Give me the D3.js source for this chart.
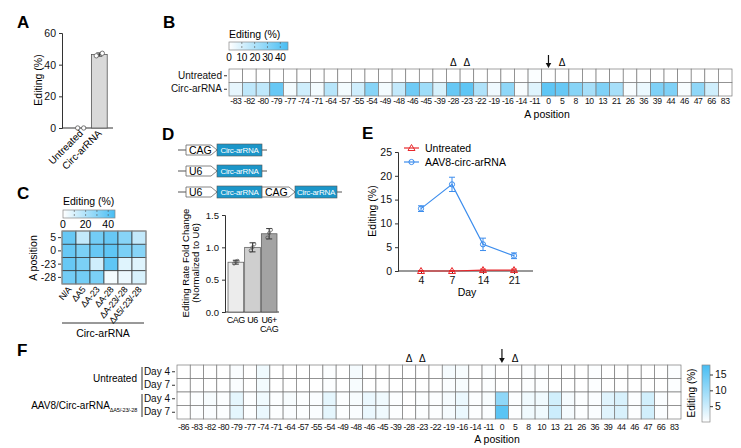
<!DOCTYPE html>
<html>
<head>
<meta charset="utf-8">
<script src="https://cdn.jsdelivr.net/npm/d3@7"></script>
<style>
  body { margin: 0; background: #fff; }
  svg { font-family: "Liberation Sans", Arial, sans-serif; }
  .panel { font-weight: bold; font-size: 17px; }
  .domain { stroke: #333; }
</style>
</head>
<body>
<div id="fig"></div>
<script>
// ---- data ----
var aGroups = ["Untreated", "Circ-arRNA"];
var aMeans = [0.2, 46.4];
var aErr = [0.2, 1.0];
var aPoints = [[0, 0], [45.6, 47.2]];

var bPositions = [-83, -82, -80, -79, -77, -74, -71, -64, -57, -55, -54, -49, -48, -46, -45, -39, -28, -23, -22, -19, -16, -14, -11, 0, 5, 8, 10, 13, 21, 26, 36, 39, 44, 46, 47, 66, 83];
var bRows = ["Untreated", "Circ-arRNA"];
var bUntreated = [0, 0, 0, 0, 0, 0, 0, 0, 0, 0, 0, 0, 0, 0, 0, 0, 0, 0, 0, 0, 0, 0, 1, 0, 0, 0, 0, 0, 0, 0, 0, 0, 0, 0, 0, 0, 0];
var bCirc = [6, 16, 16, 38, 3, 12, 3, 18, 3, 12, 30, 3, 15, 36, 24, 10, 38, 40, 20, 4, 28, 2, 8, 40, 38, 30, 22, 32, 22, 2, 5, 32, 32, 2, 28, 12, 0];
var bMarkedDelta = [-28, -23, 5];
var bArrow = 0;

var cCols = ["N/A", "ΔA5", "ΔA-23", "ΔA-28", "ΔA-23/-28", "ΔA5/-23/-28"];
var cRows = ["5", "0", "-23", "-28"];
var cValues = [
  [38, 15, 35, 38, 30, 15],
  [38, 33, 38, 40, 33, 30],
  [38, 33, 12, 40, 8, 8],
  [35, 35, 33, 3, 5, 10]
];

var dConstructs = [["CAG", "Circ-arRNA"], ["U6", "Circ-arRNA"], ["U6", "Circ-arRNA", "CAG", "Circ-arRNA"]];
var dGroups = ["CAG", "U6", "U6+CAG"];
var dMeans = [0.77, 1.0, 1.21];
var dErr = [0.03, 0.07, 0.08];
var dPoints = [[0.75, 0.78, 0.79], [0.95, 1.0, 1.05], [1.15, 1.22, 1.27]];

var eDays = [4, 7, 14, 21];
var eUntreated = [0, 0, 0.2, 0.2];
var eUntreatedErr = [0.1, 0.1, 0.2, 0.2];
var eAav = [13.1, 18.2, 5.6, 3.2];
var eAavErr = [0.6, 1.5, 1.3, 0.6];

var fPositions = [-86, -83, -82, -80, -79, -77, -74, -71, -64, -57, -55, -54, -49, -48, -46, -45, -39, -28, -23, -22, -19, -16, -14, -11, 0, 5, 8, 10, 13, 21, 26, 36, 39, 44, 46, 47, 66, 83];
var fRowLabels = ["Day 4", "Day 7", "Day 4", "Day 7"];
var fValues = [
  [0, 0, 0, 0, 0.5, 0, 1.5, 0, 0, 0, 0, 0.3, 0, 1, 0, 0, 0, 0, 0, 0, 1, 0.8, 0, 0.3, 0, 0, 0.3, 0.3, 0, 0, 0, 0.3, 0, 0, 0, 0, 0, 0.3],
  [0, 0, 0, 0, 0.5, 0, 1.2, 0, 0, 0, 0, 0.3, 0, 0.8, 0, 0, 0, 0, 0, 0, 0.5, 0.8, 0, 0.3, 0, 0, 0.3, 0.3, 0, 0, 0, 0.3, 0, 0, 0, 0, 0, 0.3],
  [0, 0.3, 0.8, 0.3, 2.5, 0.3, 1.5, 0.3, 0.8, 0.3, 0.5, 2.5, 0.3, 0.8, 2, 1.5, 0.3, 0, 0.3, 0.3, 1, 2, 0.3, 0.8, 11, 0.3, 1.5, 1.5, 4.5, 1, 0.3, 0.5, 3, 3.8, 0.3, 4.5, 0.5, 0],
  [0, 0.3, 0.5, 0.3, 2.5, 0.3, 2, 0.3, 0.5, 0.3, 0.5, 2.5, 0.3, 0.5, 2, 1.5, 0.3, 0, 0.3, 0.3, 1, 2, 0.3, 0.5, 16, 0.3, 1.5, 1.5, 5, 1, 0.3, 0.5, 3, 3.8, 0.3, 4.5, 0.5, 0]
];

// ---- svg ----
var svg = d3.select("#fig").append("svg")
  .attr("width", 741)
  .attr("height", 448);

var heatBlue = "#47bdf3";
var cellStroke = "#7a7a7a";

function panelLabel(t, x, y) {
  svg.append("text").attr("class", "panel").attr("x", x).attr("y", y).text(t);
}
function styleAxis(g, size) {
  g.selectAll("text").attr("font-size", size).attr("fill", "#111");
  g.selectAll("line").attr("stroke", "#333");
  g.select(".domain").attr("stroke", "#333");
}
function deltaMark(x, y) {
  svg.append("text").attr("x", x).attr("y", y).attr("text-anchor", "middle")
    .attr("font-size", 10).text("Δ");
}
function arrowMark(x, y0, y1) {
  svg.append("line").attr("x1", x).attr("x2", x).attr("y1", y0).attr("y2", y1 - 4)
    .attr("stroke", "#111").attr("stroke-width", 1.2);
  svg.append("path").attr("d", `M${x - 2.8},${y1 - 5} L${x + 2.8},${y1 - 5} L${x},${y1} Z`).attr("fill", "#111");
}
function gradientDef(id, vertical) {
  var g = svg.append("defs").append("linearGradient").attr("id", id);
  if (vertical) g.attr("x1", 0).attr("y1", 1).attr("x2", 0).attr("y2", 0);
  g.append("stop").attr("offset", "0%").attr("stop-color", "#ffffff");
  g.append("stop").attr("offset", "100%").attr("stop-color", heatBlue);
}

// ================= Panel A =================
panelLabel("A", 17, 28);
var yA = d3.scaleLinear().domain([0, 60]).range([128, 33]);
var xA = d3.scaleBand().domain(aGroups).range([70, 110]).padding(0.15);

var axA = svg.append("g").attr("transform", "translate(62,0)")
  .call(d3.axisLeft(yA).tickValues([0, 20, 40, 60]).tickSize(3));
styleAxis(axA, 10.5);
svg.append("line").attr("x1", 62).attr("x2", 113).attr("y1", 128).attr("y2", 128).attr("stroke", "#333");

svg.selectAll(".barA").data(aGroups).enter().append("rect")
  .attr("x", d => xA(d))
  .attr("width", xA.bandwidth())
  .attr("y", (d, i) => yA(aMeans[i]))
  .attr("height", (d, i) => yA(0) - yA(aMeans[i]))
  .attr("fill", (d, i) => i === 0 ? "none" : "#d9d9d9")
  .attr("stroke", (d, i) => i === 0 ? "none" : "#555")
  .attr("stroke-width", 0.8);

aGroups.forEach(function(g, i) {
  var cx = xA(g) + xA.bandwidth() / 2;
  if (aErr[i] > 0.5) {
    svg.append("line").attr("x1", cx).attr("x2", cx).attr("y1", yA(aMeans[i] - aErr[i])).attr("y2", yA(aMeans[i] + aErr[i])).attr("stroke", "#333");
    [aMeans[i] - aErr[i], aMeans[i] + aErr[i]].forEach(function(v) {
      svg.append("line").attr("x1", cx - 3).attr("x2", cx + 3).attr("y1", yA(v)).attr("y2", yA(v)).attr("stroke", "#333");
    });
  }
  aPoints[i].forEach(function(v, j) {
    svg.append("circle").attr("cx", cx + (j === 0 ? -3 : 3)).attr("cy", yA(v)).attr("r", 2.2)
      .attr("fill", "#fff").attr("stroke", "#555").attr("stroke-width", 0.8);
  });
  svg.append("text")
    .attr("transform", `translate(${cx + 3},${134}) rotate(-45)`)
    .attr("text-anchor", "end").attr("font-size", 10).text(g);
});
svg.append("text").attr("transform", "translate(42,80) rotate(-90)")
  .attr("text-anchor", "middle").attr("font-size", 10.5).text("Editing (%)");

// ================= Panel B =================
panelLabel("B", 163, 28);
var xB = d3.scaleBand().domain(bPositions).range([229, 732]);
var yB = d3.scaleBand().domain(bRows).range([69, 96]);
var colorB = d3.scaleLinear().domain([0, 46]).range(["#ffffff", heatBlue]);

[bUntreated, bCirc].forEach(function(row, r) {
  svg.append("g").selectAll("rect").data(row).enter().append("rect")
    .attr("x", (d, i) => xB(bPositions[i]))
    .attr("y", yB(bRows[r]))
    .attr("width", xB.bandwidth())
    .attr("height", yB.bandwidth())
    .attr("fill", d => colorB(d))
    .attr("stroke", cellStroke)
    .attr("stroke-width", 0.7);
});
var axBL = svg.append("g").attr("transform", "translate(227,0)")
  .call(d3.axisLeft(yB).tickSize(3).tickPadding(2));
axBL.select(".domain").remove();
styleAxis(axBL, 10);
var axBB = svg.append("g").attr("transform", "translate(0,96)")
  .call(d3.axisBottom(xB).tickSize(0).tickPadding(1.5));
axBB.select(".domain").remove();
styleAxis(axBB, 8.6);
axBB.selectAll("text").attr("letter-spacing", -0.4);
svg.append("text").attr("x", 547).attr("y", 118).attr("text-anchor", "middle").attr("font-size", 10.5).text("A position");

bMarkedDelta.forEach(p => deltaMark(xB(p) + xB.bandwidth() / 2, 66));
arrowMark(xB(bArrow) + xB.bandwidth() / 2, 55, 68);

// legend B
gradientDef("gradB", false);
svg.append("text").attr("x", 229).attr("y", 38).attr("font-size", 10.5).text("Editing (%)");
var legB = d3.scaleLinear().domain([0, 46]).range([229, 288]);
svg.append("rect").attr("x", 229).attr("y", 42).attr("width", 59).attr("height", 8)
  .attr("fill", "url(#gradB)").attr("stroke", "#888").attr("stroke-width", 0.7);
[10, 20, 30, 40].forEach(function(v) {
  svg.append("line").attr("x1", legB(v)).attr("x2", legB(v)).attr("y1", 42).attr("y2", 50)
    .attr("stroke", "#555").attr("stroke-width", 0.6).attr("stroke-dasharray", "2,2");
});
[0, 10, 20, 30, 40].forEach(function(v) {
  svg.append("text").attr("x", legB(v)).attr("y", 61).attr("text-anchor", "middle")
    .attr("font-size", 10).attr("letter-spacing", -0.3).text(v);
});

// ================= Panel C =================
panelLabel("C", 17, 199);
var xC = d3.scaleBand().domain(cCols).range([62, 146]);
var yC = d3.scaleBand().domain(cRows).range([231, 284]);
var colorC = d3.scaleLinear().domain([0, 46]).range(["#ffffff", heatBlue]);
cValues.forEach(function(row, r) {
  svg.append("g").selectAll("rect").data(row).enter().append("rect")
    .attr("x", (d, i) => xC(cCols[i]))
    .attr("y", yC(cRows[r]))
    .attr("width", xC.bandwidth())
    .attr("height", yC.bandwidth())
    .attr("fill", d => colorC(d))
    .attr("stroke", "#333")
    .attr("stroke-width", 0.7);
});
svg.append("rect").attr("x", 62).attr("y", 231).attr("width", 84).attr("height", 53)
  .attr("fill", "none").attr("stroke", "#999").attr("stroke-width", 1);
var axCL = svg.append("g").attr("transform", "translate(61,0)")
  .call(d3.axisLeft(yC).tickSize(3).tickPadding(2));
axCL.select(".domain").remove();
styleAxis(axCL, 10.5);
cCols.forEach(function(c) {
  svg.append("text")
    .attr("transform", `translate(${xC(c) + xC.bandwidth() / 2 + 3},${290}) rotate(-50)`)
    .attr("text-anchor", "end").attr("font-size", 9).attr("letter-spacing", -0.3).text(c);
});
svg.append("line").attr("x1", 62).attr("x2", 144).attr("y1", 323).attr("y2", 323).attr("stroke", "#333");
svg.append("text").attr("x", 103).attr("y", 337).attr("text-anchor", "middle").attr("font-size", 10.5).text("Circ-arRNA");
svg.append("text").attr("transform", "translate(37,258) rotate(-90)")
  .attr("text-anchor", "middle").attr("font-size", 10.5).text("A position");

gradientDef("gradC", false);
svg.append("text").attr("x", 63).attr("y", 205).attr("font-size", 10.5).text("Editing (%)");
var legC = d3.scaleLinear().domain([0, 46]).range([63, 115]);
svg.append("rect").attr("x", 63).attr("y", 210).attr("width", 52).attr("height", 8)
  .attr("fill", "url(#gradC)").attr("stroke", "#888").attr("stroke-width", 0.7);
[10, 20, 30, 40].forEach(function(v) {
  svg.append("line").attr("x1", legC(v)).attr("x2", legC(v)).attr("y1", 210).attr("y2", 218)
    .attr("stroke", "#555").attr("stroke-width", 0.6).attr("stroke-dasharray", "2,2");
});
[0, 20, 40].forEach(function(v) {
  svg.append("text").attr("x", legC(v)).attr("y", 228).attr("text-anchor", "middle")
    .attr("font-size", 10.5).text(v);
});

// ================= Panel D =================
panelLabel("D", 162, 140);
var yRowD = d3.scalePoint().domain([0, 1, 2]).range([150, 192]);
var partW = { promoter: 31, promoter2: 33, box: 45, box2: 42 };
dConstructs.forEach(function(parts, r) {
  var y = yRowD(r);
  var x = 186;
  var h = 10;
  svg.append("line").attr("x1", 178).attr("x2", 186).attr("y1", y).attr("y2", y).attr("stroke", "#555");
  parts.forEach(function(p, k) {
    var isPromoter = (k % 2 === 0);
    var w = isPromoter ? (k === 0 ? partW.promoter : partW.promoter2) : (k === 1 ? partW.box : partW.box2);
    if (isPromoter) {
      svg.append("path")
        .attr("d", `M${x},${y - h / 2} L${x + w - 6},${y - h / 2} L${x + w},${y} L${x + w - 6},${y + h / 2} L${x},${y + h / 2} Z`)
        .attr("fill", "#fff").attr("stroke", "#666").attr("stroke-width", 0.8);
      svg.append("text").attr("x", x + 3).attr("y", y + 4).attr("font-size", 10.5).text(p);
    } else {
      svg.append("rect").attr("x", x).attr("y", y - h / 2 - 1).attr("width", w).attr("height", h + 2)
        .attr("fill", "#1b96c9").attr("stroke", "#555").attr("stroke-width", 0.6);
      svg.append("text").attr("x", x + w / 2).attr("y", y + 3).attr("text-anchor", "middle")
        .attr("font-size", 8).attr("letter-spacing", -0.3).attr("fill", "#fff").text(p);
    }
    x += w;
  });
  svg.append("line").attr("x1", x).attr("x2", x + 5).attr("y1", y).attr("y2", y).attr("stroke", "#555");
});

var yD = d3.scaleLinear().domain([0, 1.5]).range([312, 215]);
var xD = d3.scaleBand().domain(dGroups).range([227, 278]).padding(0.06);
var dColors = ["#ececec", "#cfcfcf", "#a3a3a3"];
var axDL = svg.append("g").attr("transform", "translate(225,0)")
  .call(d3.axisLeft(yD).tickValues([0, 0.5, 1.0, 1.5]).tickFormat(d3.format(".1f")).tickSize(3));
styleAxis(axDL, 9.5);
svg.append("line").attr("x1", 225).attr("x2", 279).attr("y1", 312).attr("y2", 312).attr("stroke", "#333");
svg.selectAll(".barD").data(dGroups).enter().append("rect")
  .attr("x", d => xD(d))
  .attr("width", xD.bandwidth())
  .attr("y", (d, i) => yD(dMeans[i]))
  .attr("height", (d, i) => yD(0) - yD(dMeans[i]))
  .attr("fill", (d, i) => dColors[i])
  .attr("stroke", "#555").attr("stroke-width", 0.7);
dGroups.forEach(function(g, i) {
  var cx = xD(g) + xD.bandwidth() / 2;
  svg.append("line").attr("x1", cx).attr("x2", cx).attr("y1", yD(dMeans[i] - dErr[i])).attr("y2", yD(dMeans[i] + dErr[i])).attr("stroke", "#333");
  [dMeans[i] - dErr[i], dMeans[i] + dErr[i]].forEach(function(v) {
    svg.append("line").attr("x1", cx - 3).attr("x2", cx + 3).attr("y1", yD(v)).attr("y2", yD(v)).attr("stroke", "#333");
  });
  dPoints[i].forEach(function(v, j) {
    svg.append("circle").attr("cx", cx + (j - 1) * 1.8).attr("cy", yD(v)).attr("r", 1.6)
      .attr("fill", "none").attr("stroke", "#555").attr("stroke-width", 0.7);
  });
  var lines = g === "U6+CAG" ? ["U6+", "CAG"] : [g];
  lines.forEach(function(t, k) {
    svg.append("text").attr("x", cx).attr("y", 323 + k * 9).attr("text-anchor", "middle")
      .attr("font-size", 9).attr("letter-spacing", -0.4).text(t);
  });
});
svg.append("text").attr("transform", "translate(189,263) rotate(-90)")
  .attr("text-anchor", "middle").attr("font-size", 9.5).text("Editing  Rate Fold Change");
svg.append("text").attr("transform", "translate(199,263) rotate(-90)")
  .attr("text-anchor", "middle").attr("font-size", 9.5).text("(Normalized to U6)");

// ================= Panel E =================
panelLabel("E", 362, 139);
var xE = d3.scalePoint().domain(eDays).range([421, 514]);
var yE = d3.scaleLinear().domain([0, 25]).range([271, 152]);
var axEL = svg.append("g").attr("transform", "translate(398,0)")
  .call(d3.axisLeft(yE).tickValues([0, 5, 10, 15, 20, 25]).tickSize(3));
styleAxis(axEL, 10.5);
var axEB = svg.append("g").attr("transform", "translate(0,271)")
  .call(d3.axisBottom(xE).tickSize(3));
axEB.select(".domain").attr("d", "M398,0H533");
styleAxis(axEB, 10.5);
svg.append("text").attr("x", 467).attr("y", 296).attr("text-anchor", "middle").attr("font-size", 10.5).text("Day");
svg.append("text").attr("transform", "translate(376,211) rotate(-90)")
  .attr("text-anchor", "middle").attr("font-size", 10.5).text("Editing (%)");

var lineE = d3.line().x((d, i) => xE(eDays[i])).y(d => yE(d));
function drawSeries(vals, errs, color, marker) {
  svg.append("path").datum(vals).attr("d", lineE).attr("fill", "none").attr("stroke", color).attr("stroke-width", 1.2);
  vals.forEach(function(v, i) {
    var cx = xE(eDays[i]);
    svg.append("line").attr("x1", cx).attr("x2", cx).attr("y1", yE(v - errs[i])).attr("y2", yE(v + errs[i])).attr("stroke", color);
    [v - errs[i], v + errs[i]].forEach(function(e) {
      svg.append("line").attr("x1", cx - 3).attr("x2", cx + 3).attr("y1", yE(e)).attr("y2", yE(e)).attr("stroke", color);
    });
    marker(cx, yE(v));
  });
}
function triMarker(color) {
  return function(x, y) {
    svg.append("path").attr("d", `M${x},${y - 3.5} L${x + 3.5},${y + 2.5} L${x - 3.5},${y + 2.5} Z`)
      .attr("fill", "none").attr("stroke", color).attr("stroke-width", 1);
  };
}
function circMarker(color) {
  return function(x, y) {
    svg.append("circle").attr("cx", x).attr("cy", y).attr("r", 2.6)
      .attr("fill", "none").attr("stroke", color).attr("stroke-width", 1);
  };
}
var redE = "#e8282c", blueE = "#3c8ded";
drawSeries(eUntreated, eUntreatedErr, redE, triMarker(redE));
drawSeries(eAav, eAavErr, blueE, circMarker(blueE));
// legend E
svg.append("line").attr("x1", 404).attr("x2", 419).attr("y1", 148).attr("y2", 148).attr("stroke", redE).attr("stroke-width", 1.2);
triMarker(redE)(411.5, 148);
svg.append("text").attr("x", 425).attr("y", 152).attr("font-size", 10.5).text("Untreated");
svg.append("line").attr("x1", 404).attr("x2", 419).attr("y1", 162).attr("y2", 162).attr("stroke", blueE).attr("stroke-width", 1.2);
circMarker(blueE)(411.5, 162);
svg.append("text").attr("x", 425).attr("y", 166).attr("font-size", 10.5).text("AAV8-circ-arRNA");

// ================= Panel F =================
panelLabel("F", 17, 356);
var xF = d3.scaleBand().domain(fPositions).range([177, 681]);
var yF = d3.scaleBand().domain(d3.range(fRowLabels.length)).range([365, 419]);
var colorF = d3.scaleLinear().domain([0, 18]).range(["#ffffff", heatBlue]);
fValues.forEach(function(row, r) {
  svg.append("g").selectAll("rect").data(row).enter().append("rect")
    .attr("x", (d, i) => xF(fPositions[i]))
    .attr("y", yF(r))
    .attr("width", xF.bandwidth())
    .attr("height", yF.bandwidth())
    .attr("fill", d => colorF(d))
    .attr("stroke", cellStroke)
    .attr("stroke-width", 0.7);
});
var axFL = svg.append("g").attr("transform", "translate(175,0)")
  .call(d3.axisLeft(yF).tickFormat(i => fRowLabels[i]).tickSize(3).tickPadding(2));
axFL.select(".domain").remove();
styleAxis(axFL, 10);
var axFB = svg.append("g").attr("transform", "translate(0,421)")
  .call(d3.axisBottom(xF).tickSize(0).tickPadding(3));
axFB.select(".domain").remove();
styleAxis(axFB, 8.6);
axFB.selectAll("text").attr("letter-spacing", -0.4);
svg.append("text").attr("x", 497).attr("y", 443).attr("text-anchor", "middle").attr("font-size", 10.5).text("A position");

svg.append("line").attr("x1", 142).attr("x2", 142).attr("y1", 367).attr("y2", 390).attr("stroke", "#333");
svg.append("line").attr("x1", 142).attr("x2", 142).attr("y1", 394).attr("y2", 417).attr("stroke", "#333");
svg.append("text").attr("x", 137).attr("y", 382).attr("text-anchor", "end").attr("font-size", 10).text("Untreated");
var aavLabel = svg.append("text").attr("x", 137).attr("y", 409).attr("text-anchor", "end").attr("font-size", 10);
aavLabel.append("tspan").text("AAV8/Circ-arRNA");
aavLabel.append("tspan").attr("font-size", 5.5).attr("dy", 3).attr("letter-spacing", -0.2).text("ΔA5/-23/-28");

bMarkedDelta.forEach(p => deltaMark(xF(p) + xF.bandwidth() / 2, 362));
arrowMark(xF(bArrow) + xF.bandwidth() / 2, 349, 363);

gradientDef("gradF", true);
var legF = d3.scaleLinear().domain([0, 18]).range([422, 365]);
svg.append("rect").attr("x", 702).attr("y", 365).attr("width", 8).attr("height", 57)
  .attr("fill", "url(#gradF)").attr("stroke", "#888").attr("stroke-width", 0.7);
var axFR = svg.append("g").attr("transform", "translate(710,0)")
  .call(d3.axisRight(legF).tickValues([5, 10, 15]).tickSize(3).tickPadding(2));
axFR.select(".domain").remove();
styleAxis(axFR, 10.5);
svg.append("text").attr("transform", "translate(695,393) rotate(-90)")
  .attr("text-anchor", "middle").attr("font-size", 10).text("Editing (%)");
</script>
</body>
</html>
